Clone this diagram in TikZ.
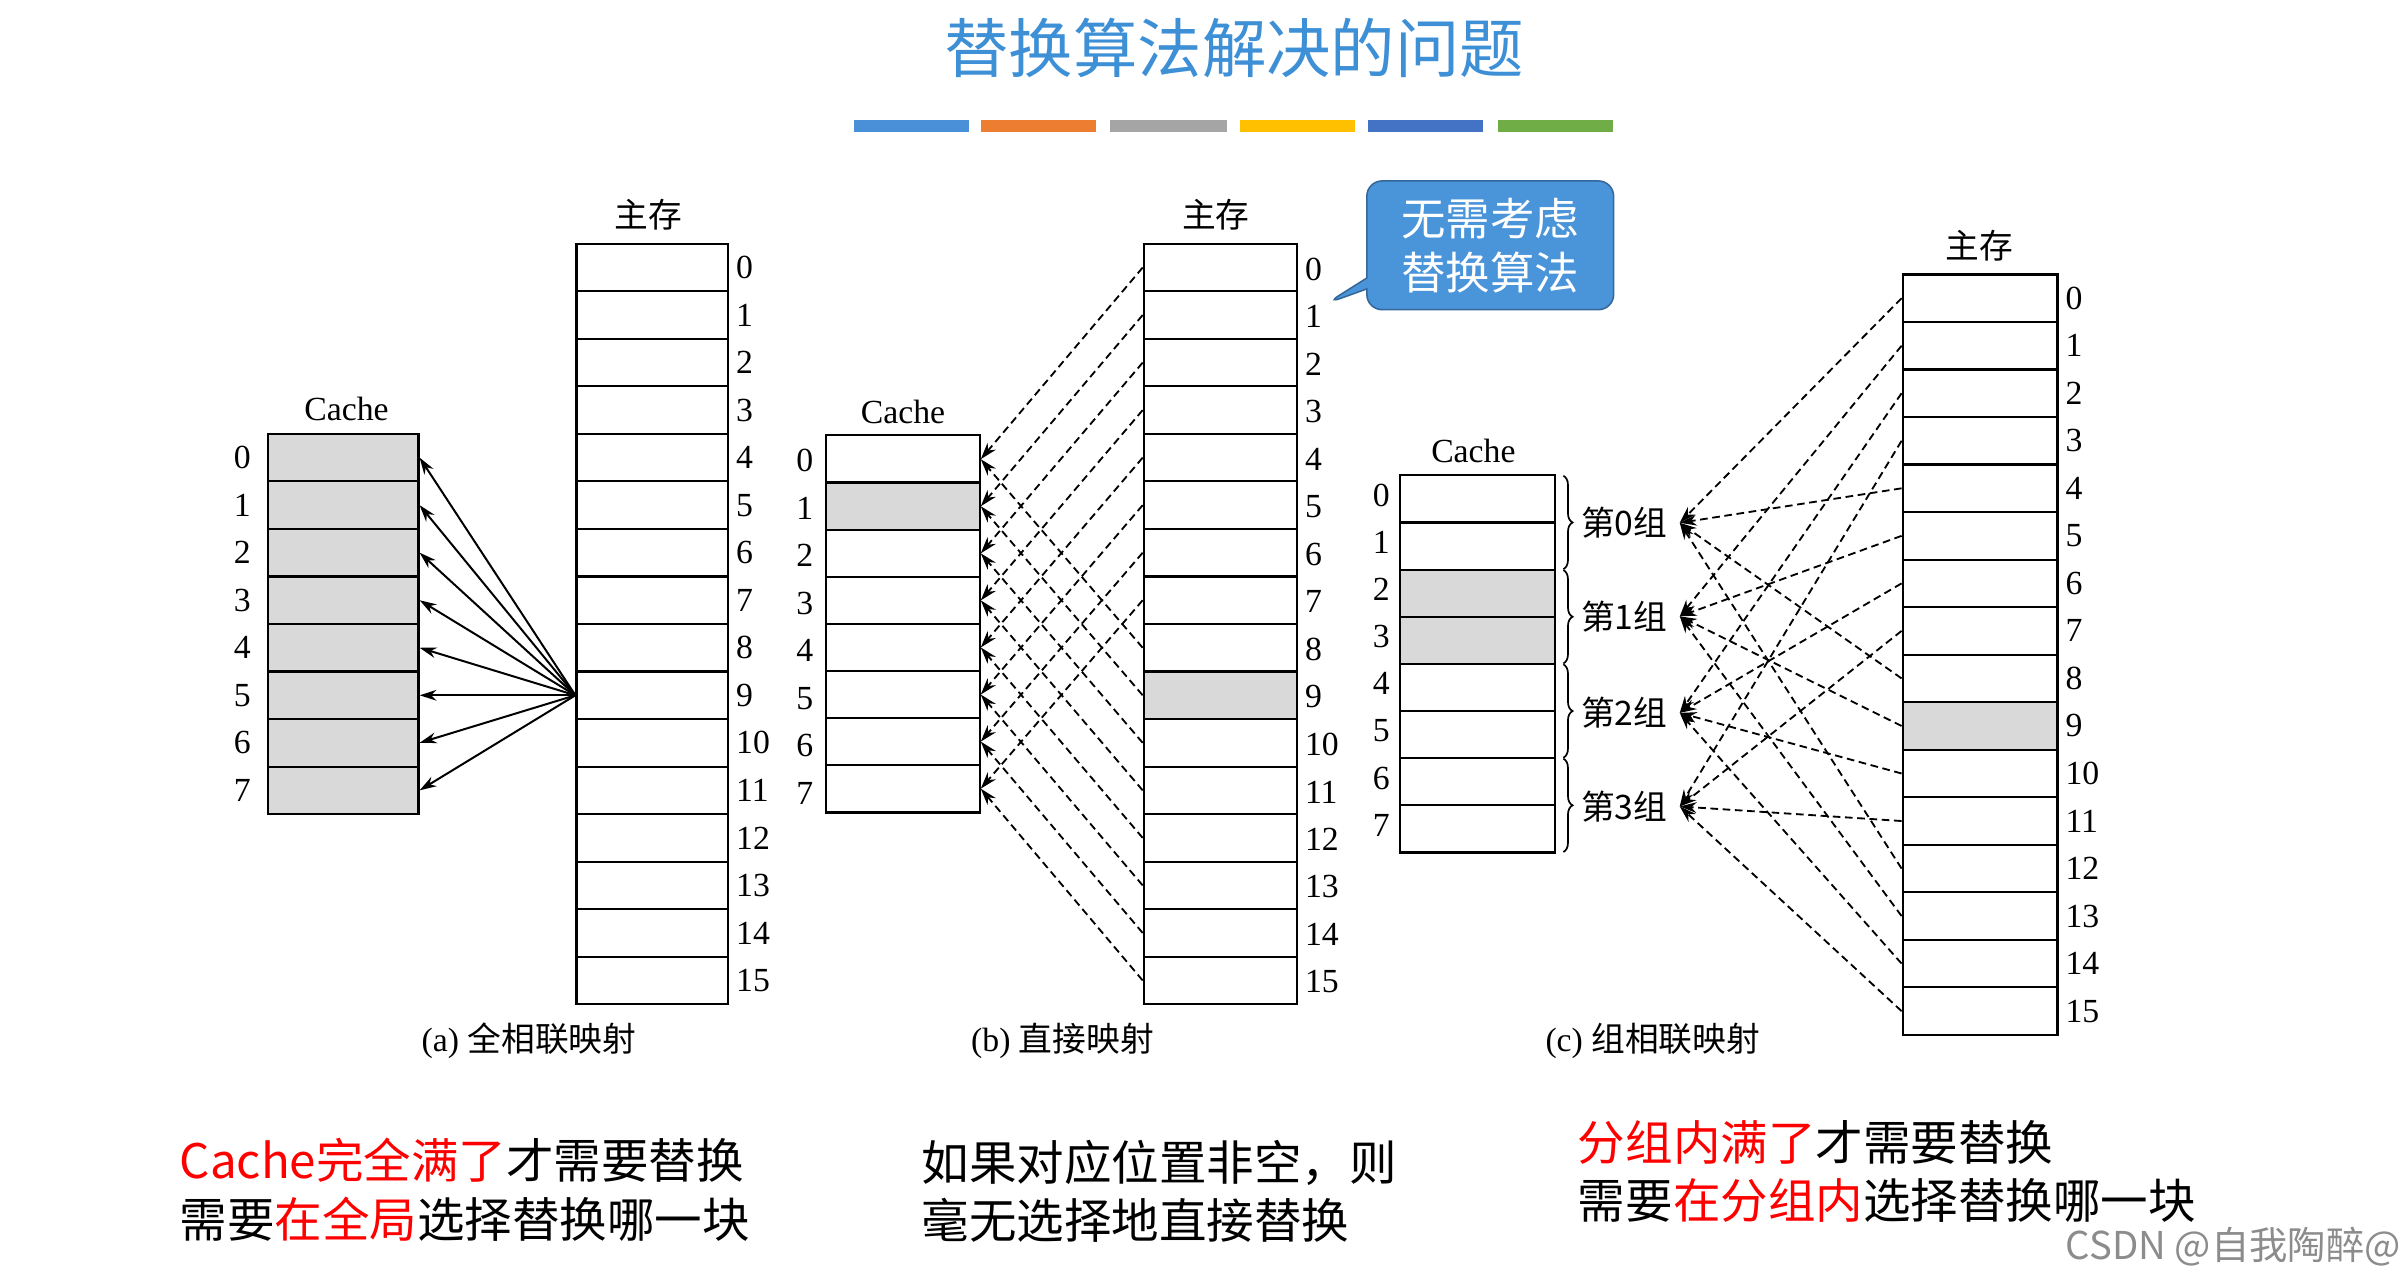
\documentclass[tikz,border=0pt]{standalone}
\usepackage{fontspec}
\setmainfont{Liberation Serif}
\newfontfamily\cjk{Noto Sans CJK SC}
\usetikzlibrary{shapes.callouts,decorations.pathreplacing,arrows.meta}
\definecolor{ttl}{HTML}{3D8FD6}
\definecolor{cbox}{HTML}{4A94DA}
\definecolor{cgray}{HTML}{D9D9D9}
\definecolor{rd}{HTML}{FF0000}
\tikzset{
  cell/.style={draw,line width=1.4pt,inner sep=0pt,minimum height=31pt},
  num/.style={font=\fontsize{22}{22}\selectfont,inner sep=0pt},
  lbl/.style={font=\fontsize{22}{22}\selectfont,inner sep=0pt},
  sol/.style={-{Stealth[length=11pt,width=7pt]},line width=1.3pt},
  dsh/.style={-{Stealth[length=11pt,width=7pt]},line width=1.2pt,dashed,dash pattern=on 5pt off 3pt},
  btxt/.style={font=\cjk\fontsize{31}{38}\selectfont,inner sep=0pt,anchor=west,align=left}
}
\begin{document}
\begin{tikzpicture}[x=1pt,y=-1pt]
\useasboundingbox (0,0) rectangle (1568,840);
\node[font=\cjk\fontsize{42}{42}\selectfont,text=ttl] (title) at (805,31) {替换算法解决的问题};
\foreach \a/\b/\c in {557/632/4A90D9,640/715/ED7D31,724/800/A5A5A5,809/884/FFC000,892/967/4472C4,977/1052/70AD47}{
  \definecolor{barc}{HTML}{\c}
  \fill[barc] (\a,78) rectangle (\b,86);}
% ---- (a)
\foreach \i in {0,...,15}{
  \node[cell,minimum width=99pt] (ma\i) at (425.5,174.5+31*\i) {};
  \node[num,anchor=west] (na\i) at (480,174.5+31*\i) {\i};}
\foreach \i in {0,...,7}{
  \node[cell,minimum width=98pt,fill=cgray] (ca\i) at (224,298.5+31*\i) {};
  \node[num] (la\i) at (158,298.5+31*\i) {\i};}
\node[lbl] (ta) at (226,267) {Cache};
\node[lbl] (sa) at (423,140) {\cjk 主存};
\foreach \i in {0,...,7} \draw[sol] (ma9.west) -- (ca\i.east);
\node[lbl] (capa) at (345,679) {(a) {\cjk 全相联映射}};
% ---- (b)
\foreach \i in {0,...,15}{
  \node[cell,minimum width=100pt] (mb\i) at (796,174.5+31*\i) {};
  \node[num,anchor=west] (nb\i) at (851,175.5+31*\i) {\i};}
\node[cell,minimum width=100pt,fill=cgray] at (mb9) {};
\foreach \i in {0,...,7}{
  \node[cell,minimum width=100pt] (cb\i) at (589,299.5+30.7*\i) {};
  \node[num] (lb\i) at (525,300.5+31*\i) {\i};}
\node[cell,minimum width=100pt,fill=cgray] at (cb1) {};
\node[lbl] (tb) at (589,269) {Cache};
\node[lbl] (sb) at (793,140) {\cjk 主存};
\foreach \i in {0,...,15}{\pgfmathtruncatemacro\j{mod(\i,8)}
  \draw[dsh] (mb\i.west) -- (cb\j.east);}
\node[lbl] (capb) at (693,679) {(b) {\cjk 直接映射}};
\node[rectangle callout,rounded corners=10pt,fill=cbox,draw=cbox!70!black,line width=1pt,
  minimum width=161pt,minimum height=84pt,align=center,text=white,
  font=\cjk\fontsize{29}{35}\selectfont,callout absolute pointer={(865,198)}] (call) at (972,160) {无需考虑\\替换算法};
% ---- (c)
\foreach \i in {0,...,15}{
  \node[cell,minimum width=101pt] (mc\i) at (1291.5,194.5+31*\i) {};
  \node[num,anchor=west] (nc\i) at (1347,194.5+31*\i) {\i};}
\node[cell,minimum width=101pt,fill=cgray] at (mc9) {};
\foreach \i in {0,...,7}{
  \node[cell,minimum width=101pt,minimum height=30.75pt] (cc\i) at (963.5,325.4+30.75*\i) {};
  \node[num] (lc\i) at (901,323+30.75*\i) {\i};}
\node[cell,minimum width=101pt,minimum height=30.75pt,fill=cgray] at (cc2) {};
\node[cell,minimum width=101pt,minimum height=30.75pt,fill=cgray] at (cc3) {};
\node[lbl] (tc) at (961,294) {Cache};
\node[lbl] (sc) at (1291,160) {\cjk 主存};
\foreach \g/\y in {0/341,1/402,2/465,3/526}{
  \pgfmathtruncatemacro\t{2*\g}\pgfmathtruncatemacro\b{2*\g+1}
  \draw[line width=1.1pt,decorate,decoration={brace,amplitude=6pt}] ([xshift=5pt,yshift=-1pt]cc\t.north east) -- ([xshift=5pt,yshift=1pt]cc\b.south east);
  \node[lbl,anchor=west] (g\g) at (1031,\y) {\cjk 第\g 组};}
\foreach \i in {0,...,15}{\pgfmathtruncatemacro\j{mod(\i,4)}
  \draw[dsh] (mc\i.west) -- ([xshift=8pt]g\j.east);}
\node[lbl] (capc) at (1078,679) {(c) {\cjk 组相联映射}};
% ---- bottom texts
\node[btxt] (t1) at (117,776) {\textcolor{rd}{Cache完全满了}才需要替换\\需要\textcolor{rd}{在全局}选择替换哪一块};
\node[btxt] (t2) at (601,777) {如果对应位置非空，则\\毫无选择地直接替换};
\node[btxt] (t3) at (1029,764) {\textcolor{rd}{分组内满了}才需要替换\\需要\textcolor{rd}{在分组内}选择替换哪一块};
\node[font=\cjk\fontsize{25}{25}\selectfont,text=black!45,anchor=east,inner sep=0pt] (wm) at (1566,813) {CSDN @自我陶醉@};
\end{tikzpicture}
\end{document}
